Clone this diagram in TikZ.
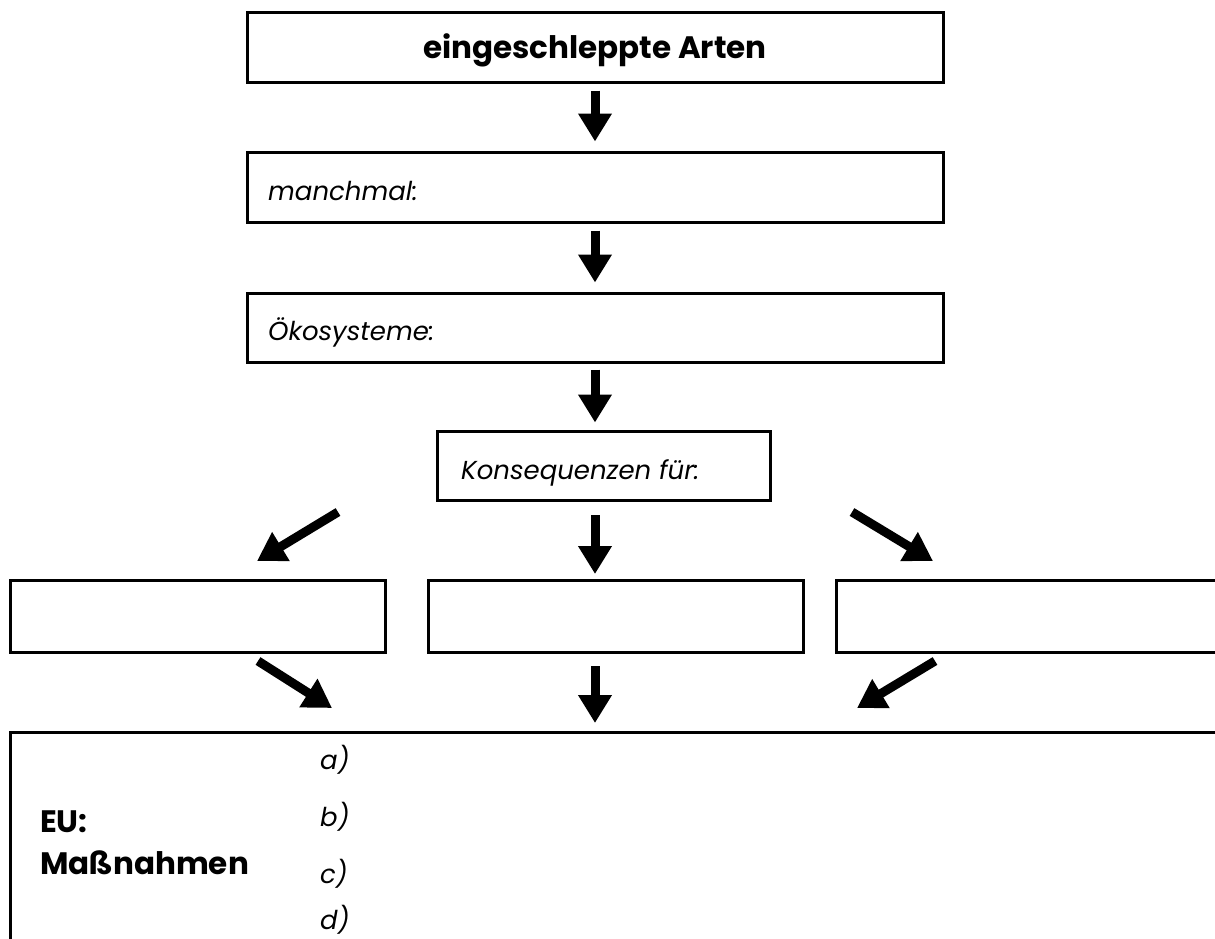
\documentclass[tikz,border=0pt]{standalone}
\usepackage{fontspec}
\setmainfont{Poppins}
\usetikzlibrary{arrows.meta}
\begin{document}
\begin{tikzpicture}[x=1pt,y=-1pt,
  box/.style={draw, line width=3pt, inner sep=0pt},
  arr/.style={line width=9pt, -{Triangle[width=32pt,length=28pt]}},
  head/.style={font=\fontsize{31}{35}\selectfont\bfseries},
  lab/.style={font=\fontsize{26}{30}\selectfont\itshape, anchor=west, inner sep=0pt}]
\useasboundingbox (0,0) rectangle (1215,938);
% boxes
\node[box, minimum width=696, minimum height=70] (b1) at (595,47) {};
\node[box, minimum width=696, minimum height=70] (b2) at (595,187) {};
\node[box, minimum width=696, minimum height=69] (b3) at (595,327.5) {};
\node[box, minimum width=333, minimum height=69] (b4) at (603.5,465.5) {};
\node[box, minimum width=375, minimum height=72] (l) at (197.5,616) {};
\node[box, minimum width=375, minimum height=72] (m) at (615.5,616) {};
\node[box, minimum width=394, minimum height=72] (r) at (1033,616) {};
\node[box, minimum width=1220, minimum height=228] (eu) at (620,846) {};
% texts
\node[head] (t1) at (595,50) {eingeschleppte Arten};
\node[lab] (t2) at (268,191) {manchmal:};
\node[lab] (t3) at (268,332) {Ökosysteme:};
\node[lab] (t4) at (461,473) {Konsequenzen für:};
\node[head, anchor=west, inner sep=0pt] (t5) at (40,822) {EU:};
\node[head, anchor=west, inner sep=0pt] (t6) at (40,863) {Maßnahmen};
\node[lab] (ia) at (320,760) {a)};
\node[lab] (ib) at (320,817) {b)};
\node[lab] (ic) at (320,874) {c)};
\node[lab] (id) at (320,920) {d)};
% arrow coordinates
\coordinate (s4) at (595,515);
\coordinate (e4) at (595,574);
\coordinate (sl) at (338,512);
\coordinate (el) at (257,561);
\coordinate (sr) at (852,512);
\coordinate (er) at (933,561);
\coordinate (sl2) at (258,661);
\coordinate (el2) at (332,708);
\coordinate (sm2) at (595,666);
\coordinate (em2) at (595,723);
\coordinate (sr2) at (935,661);
\coordinate (er2) at (857,708);
% arrows
\draw[arr] ([yshift=-7pt]b1.south) -- ([yshift=9pt]b2.north);
\draw[arr] ([yshift=-7pt]b2.south) -- ([yshift=9pt]b3.north);
\draw[arr] ([yshift=-6pt]b3.south) -- ([yshift=7pt]b4.north -| b3.north);
\draw[arr] (s4) -- (e4);
\draw[arr] (sl) -- (el);
\draw[arr] (sr) -- (er);
\draw[arr] (sl2) -- (el2);
\draw[arr] (sm2) -- (em2);
\draw[arr] (sr2) -- (er2);
\end{tikzpicture}
\end{document}
